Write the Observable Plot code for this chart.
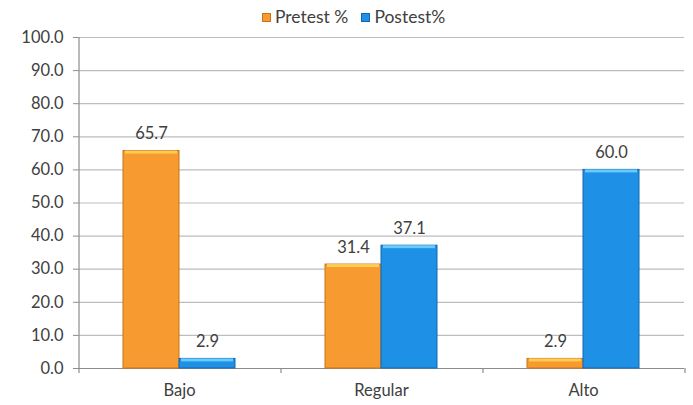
<!DOCTYPE html>
<html>
<head>
<meta charset="utf-8">
<script src="https://cdn.jsdelivr.net/npm/d3@7"></script>
<script src="https://cdn.jsdelivr.net/npm/@observablehq/plot@0.6"></script>
<style>
  html, body { margin: 0; padding: 0; background: #fff; }
  #wrap { position: relative; width: 693px; height: 405px; font-family: Lato, "Open Sans", sans-serif; }
  #legend { position: absolute; top: 6px; left: 262px; display: flex; gap: 13px; font-size: 17.5px; color: #404040; line-height: 22px; z-index: 2; }
  #legend span.item { display: inline-flex; align-items: center; gap: 4px; }
  #legend span.sw { width: 9px; height: 9px; display: inline-block; }
  #chart { position: absolute; top: 0; left: 0; }
</style>
</head>
<body>
<div id="wrap">
  <div id="legend"></div>
  <div id="chart"></div>
</div>
<script>
const categories = ["Bajo", "Regular", "Alto"];
const seriesNames = ["Pretest %", "Postest%"];
const pretest = [65.7, 31.4, 2.9];
const postest = [2.9, 37.1, 60.0];
const yTicks = [0, 10, 20, 30, 40, 50, 60, 70, 80, 90, 100];
const colors = ["#F79A30", "#1E91E6"];
const strokes = ["#C8741A", "#1467AE"];
const highlights = ["#FFD35A", "#6FD3FF"];

const data = [];
categories.forEach((c, i) => {
  data.push({category: c, series: seriesNames[0], value: pretest[i]});
  data.push({category: c, series: seriesNames[1], value: postest[i]});
});

// legend
const legend = document.getElementById("legend");
seriesNames.forEach((s, i) => {
  const item = document.createElement("span");
  item.className = "item";
  const sw = document.createElement("span");
  sw.className = "sw";
  sw.style.background = colors[i];
  sw.style.border = "1px solid " + strokes[i];
  sw.style.boxSizing = "border-box";
  item.appendChild(sw);
  item.appendChild(document.createTextNode(s));
  legend.appendChild(item);
});

// left axis line (first facet only) and Excel-style category boundary ticks (each facet)
let facetCall = 0;
function axisLines(index, scales) {
  const g = d3.create("svg:g").attr("stroke", "#8c8c8c").attr("stroke-width", 1.2);
  const fx = scales.fx;
  if (!fx) return g.node();
  const k = facetCall++;
  const step = fx.bandwidth();
  const y0 = scales.y(0);
  const x0 = fx(categories[0]); // left edge of the current facet
  if (k === 0) {
    g.append("line").attr("x1", x0).attr("x2", x0).attr("y1", scales.y(100)).attr("y2", y0);
  }
  g.append("line").attr("x1", x0).attr("x2", x0).attr("y1", y0).attr("y2", y0 + 5);
  if (k === categories.length - 1) {
    g.append("line").attr("x1", x0 + step).attr("x2", x0 + step).attr("y1", y0).attr("y2", y0 + 5);
  }
  return g.node();
}

const chart = Plot.plot({
  width: 693,
  height: 405,
  marginLeft: 77,
  marginRight: 8,
  marginTop: 37,
  marginBottom: 37,
  style: {fontFamily: "Lato, 'Open Sans', sans-serif", fontSize: "16px", color: "#404040", background: "transparent"},
  fx: {domain: categories, padding: 0, label: null},
  x: {domain: seriesNames, paddingInner: 0, paddingOuter: 0.775, axis: null},
  y: {domain: [0, 100], ticks: yTicks, label: null},
  color: {domain: seriesNames, range: colors},
  marks: [
    Plot.gridY(yTicks.filter(d => d > 0), {stroke: "#bdbdbd", strokeOpacity: 1, strokeWidth: 1.2}),
    Plot.axisY({ticks: yTicks, tickFormat: d => d.toFixed(1), tickSize: 5, tickPadding: 10, stroke: "#8c8c8c", fontSize: 16.5, label: null}),
    Plot.axisFx({anchor: "bottom", tickSize: 0, tickPadding: 16, fontSize: 16.5, label: null}),
    Plot.ruleY([0], {stroke: "#8c8c8c", strokeWidth: 1.2}),
    Plot.barY(data, {fx: "category", x: "series", y: "value", fill: "series",
      stroke: d => strokes[seriesNames.indexOf(d.series)], strokeWidth: 1}),
    Plot.barY(data, {fx: "category", x: "series", y1: "value", y2: "value",
      insetLeft: 2, insetRight: 2, insetBottom: -3,
      fill: d => highlights[seriesNames.indexOf(d.series)], fillOpacity: 0.9}),
    Plot.text(data, {fx: "category", x: "series", y: "value", text: d => d.value.toFixed(1),
      dy: -17, fontSize: 16.5, fill: "#404040"}),
    axisLines
  ]
});
document.getElementById("chart").appendChild(chart);
</script>
</body>
</html>
